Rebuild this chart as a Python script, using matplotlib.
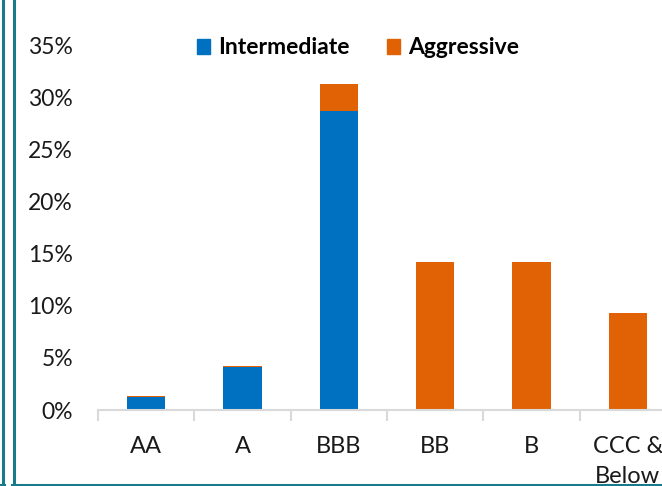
import numpy as np
import matplotlib.pyplot as plt
from matplotlib.patches import Patch
from matplotlib.lines import Line2D

# rating buckets and allocation (% of portfolio)
ratings = ['AA', 'A', 'BBB', 'BB', 'B', 'CCC &\nBelow']
intermediate = [1.2, 4.1, 28.7, 0.0, 0.0, 0.0]
aggressive = [0.1, 0.1, 2.6, 14.2, 14.2, 9.3]

blue = '#0070C0'
orange = '#E06205'
teal = '#177C88'
grey = '#D9D9D9'

plt.rcParams['font.family'] = ['Lato', 'DejaVu Sans']

W, H = 662, 486
fig = plt.figure(figsize=(W / 100, H / 100), dpi=100)
ax = fig.add_axes([98 / W, 76 / H, 578 / W, 365 / H])

x = np.arange(len(ratings))
ax.bar(x, intermediate, 0.4, color=blue)
ax.bar(x, aggressive, 0.4, bottom=intermediate, color=orange)

ax.set_xlim(-0.5, 5.5)
ax.set_ylim(0, 35)
ax.set_yticks(range(0, 36, 5), [f'{v}%' for v in range(0, 36, 5)])
ax.set_xticks(x, ratings, linespacing=1.5)
ax.set_xticks(np.arange(-0.5, 6, 1), minor=True)
ax.tick_params(axis='y', length=0, pad=18, labelsize=16.5, labelcolor='#1a1a1a')
ax.tick_params(axis='x', which='major', length=0, pad=19, labelsize=17,
               labelcolor='#1a1a1a')
ax.tick_params(axis='x', which='minor', length=8, width=1.5, color=grey)
for s in ['top', 'right', 'left']:
    ax.spines[s].set_visible(False)
ax.spines['bottom'].set_color(grey)
ax.spines['bottom'].set_linewidth(1.5)

handles = [Patch(color=blue, label='Intermediate'),
           Patch(color=orange, label='Aggressive')]
fig.legend(handles=handles, loc='center', bbox_to_anchor=(358 / W, 1 - 48 / H),
           ncol=2, frameon=False, handlelength=0.6, handleheight=0.6,
           handletextpad=0.35, columnspacing=1.6,
           prop={'weight': 'bold', 'size': 16.5})

# teal frame lines on the left and bottom
lw = 2.2
fig.add_artist(Line2D([2.5 / W, 2.5 / W], [1.5 / H, 1], color=teal, lw=lw))
fig.add_artist(Line2D([0, 4 / W], [1.5 / H, 1.5 / H], color=teal, lw=lw))
fig.add_artist(Line2D([13.5 / W, 13.5 / W], [1.5 / H, 1], color=teal, lw=lw))
fig.add_artist(Line2D([12 / W, 1], [1.5 / H, 1.5 / H], color=teal, lw=lw))

fig.savefig('out.png', dpi=100)
